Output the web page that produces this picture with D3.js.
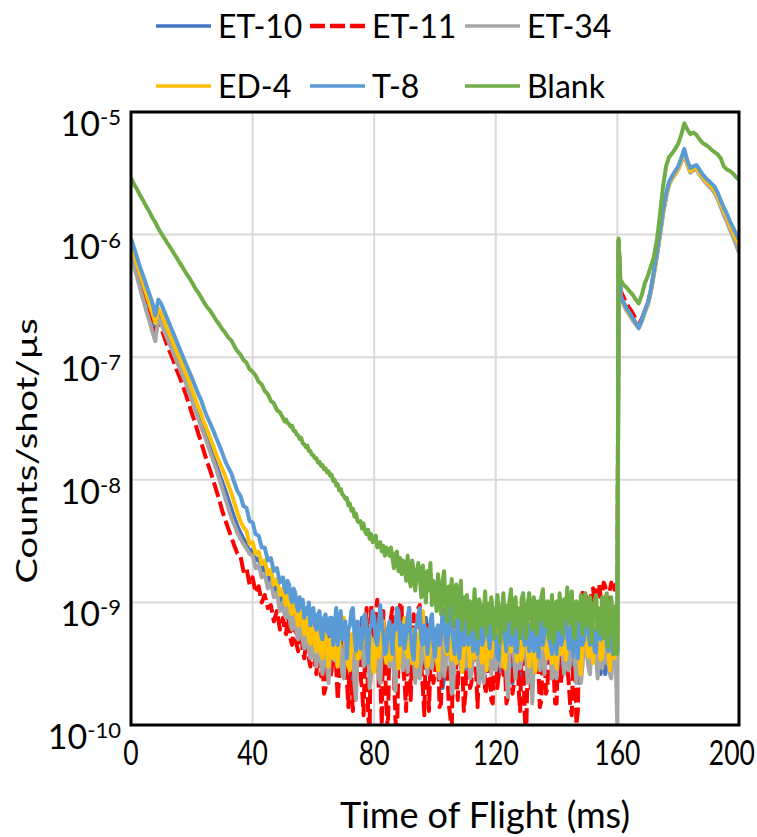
<!DOCTYPE html>
<html>
<head>
<meta charset="utf-8">
<script src="https://cdn.jsdelivr.net/npm/d3@7"></script>
<style>
  body { margin: 0; background: #fff; }
  svg { display: block; }
  text { font-family: Lato, "Open Sans", sans-serif; fill: #000; }
</style>
</head>
<body>
<svg id="chart" width="757" height="837"></svg>
<script>
// Time of flight samples (ms): 1 ms steps up to 50 ms, 0.5 ms steps in the noisy tail, 1 ms after the 160 ms gate
const timeMs = [
  0,1,2,3,4,5,6,7,8,9,
  10,11,12,13,14,15,16,17,18,19,
  20,21,22,23,24,25,26,27,28,29,
  30,31,32,33,34,35,36,37,38,39,
  40,41,42,43,44,45,46,47,48,49,
  50,50.5,51,51.5,52,52.5,53,53.5,54,54.5,
  55,55.5,56,56.5,57,57.5,58,58.5,59,59.5,
  60,60.5,61,61.5,62,62.5,63,63.5,64,64.5,
  65,65.5,66,66.5,67,67.5,68,68.5,69,69.5,
  70,70.5,71,71.5,72,72.5,73,73.5,74,74.5,
  75,75.5,76,76.5,77,77.5,78,78.5,79,79.5,
  80,80.5,81,81.5,82,82.5,83,83.5,84,84.5,
  85,85.5,86,86.5,87,87.5,88,88.5,89,89.5,
  90,90.5,91,91.5,92,92.5,93,93.5,94,94.5,
  95,95.5,96,96.5,97,97.5,98,98.5,99,99.5,
  100,100.5,101,101.5,102,102.5,103,103.5,104,104.5,
  105,105.5,106,106.5,107,107.5,108,108.5,109,109.5,
  110,110.5,111,111.5,112,112.5,113,113.5,114,114.5,
  115,115.5,116,116.5,117,117.5,118,118.5,119,119.5,
  120,120.5,121,121.5,122,122.5,123,123.5,124,124.5,
  125,125.5,126,126.5,127,127.5,128,128.5,129,129.5,
  130,130.5,131,131.5,132,132.5,133,133.5,134,134.5,
  135,135.5,136,136.5,137,137.5,138,138.5,139,139.5,
  140,140.5,141,141.5,142,142.5,143,143.5,144,144.5,
  145,145.5,146,146.5,147,147.5,148,148.5,149,149.5,
  150,150.5,151,151.5,152,152.5,153,153.5,154,154.5,
  155,155.5,156,156.5,157,157.5,158,158.5,159,159.5,
  160,160.4,
  161,162,163,164,165,166,167,168,169,170,
  171,172,173,174,175,176,177,178,179,180,
  181,182,183,184,185,186,187,188,189,190,
  191,192,193,194,195,196,197,198,199,200
];

// Counts/shot/µs at each sample
const et10 = [
  7.4e-7,6.2e-7,5.1e-7,4.2e-7,3.45e-7,2.8e-7,2.35e-7,1.95e-7,1.58e-7,2.3e-7,
  2.05e-7,1.78e-7,1.55e-7,1.35e-7,1.17e-7,1.0e-7,8.8e-8,7.6e-8,6.5e-8,5.5e-8,
  4.7e-8,4.0e-8,3.4e-8,2.9e-8,2.5e-8,2.15e-8,1.83e-8,1.56e-8,1.33e-8,1.13e-8,
  9.6e-9,8.2e-9,6.9e-9,5.8e-9,4.9e-9,4.2e-9,3.7e-9,3.3e-9,3.0e-9,2.6e-9,
  2.7e-9,2.2e-9,2.3e-9,1.8e-9,1.95e-9,1.5e-9,1.6e-9,1.25e-9,1.35e-9,1.0e-9,
  1.1e-9,9.0e-10,8.0e-10,1.0e-9,9.5e-10,7.5e-10,6.5e-10,8.5e-10,8.0e-10,6.0e-10,
  5.5e-10,7.5e-10,7.0e-10,5.5e-10,4.5e-10,6.5e-10,6.0e-10,4.5e-10,3.8e-10,5.5e-10,
  5.5e-10,4.0e-10,3.2e-10,5.0e-10,5.0e-10,3.4e-10,2.6e-10,4.5e-10,4.5e-10,6.0e-10,
  5.5e-10,4.0e-10,3.4e-10,5.5e-10,5.0e-10,3.5e-10,7.0e-10,4.5e-10,3.0e-10,5.0e-10,
  4.5e-10,3.5e-10,6.0e-10,5.5e-10,3.8e-10,3.0e-10,2.2e-10,4.5e-10,5.5e-10,4.0e-10,
  4.0e-10,6.0e-10,7.5e-10,4.5e-10,3.2e-10,3.8e-10,5.0e-10,6.0e-10,4.2e-10,3.0e-10,
  6.5e-10,4.5e-10,2.8e-10,3.5e-10,4.8e-10,5.5e-10,3.5e-10,4.0e-10,6.0e-10,3.2e-10,
  4.0e-10,5.0e-10,5.5e-10,3.0e-10,2.5e-10,4.0e-10,4.5e-10,6.0e-10,7.0e-10,4.5e-10,
  3.4e-10,2.8e-10,5.0e-10,4.5e-10,4.0e-10,5.5e-10,6.0e-10,3.8e-10,2.9e-10,4.2e-10,
  4.5e-10,5.5e-10,3.6e-10,4.0e-10,7.5e-10,5.0e-10,4.2e-10,3.0e-10,5.0e-10,6.0e-10,
  3.0e-10,4.5e-10,5.5e-10,3.6e-10,4.0e-10,2.0e-10,2.4e-10,5.0e-10,6.0e-10,4.0e-10,
  4.5e-10,3.2e-10,3.5e-10,5.5e-10,5.0e-10,6.0e-10,6.5e-10,4.0e-10,3.8e-10,2.7e-10,
  4.5e-10,5.0e-10,2.6e-10,4.2e-10,5.5e-10,3.5e-10,4.0e-10,6.0e-10,6.0e-10,4.5e-10,
  3.2e-10,2.4e-10,4.8e-10,5.0e-10,5.5e-10,4.0e-10,3.6e-10,5.5e-10,7.0e-10,4.2e-10,
  4.0e-10,3.0e-10,2.7e-10,5.0e-10,5.0e-10,3.6e-10,4.2e-10,6.0e-10,6.0e-10,4.5e-10,
  3.4e-10,2.2e-10,5.0e-10,4.0e-10,4.0e-10,5.5e-10,2.3e-10,3.6e-10,5.5e-10,4.5e-10,
  4.5e-10,6.0e-10,6.5e-10,4.2e-10,3.6e-10,5.0e-10,5.0e-10,3.4e-10,4.2e-10,5.5e-10,
  3.0e-10,4.5e-10,6.0e-10,3.8e-10,4.5e-10,5.0e-10,5.5e-10,4.0e-10,2.8e-10,3.6e-10,
  4.8e-10,6.0e-10,3.8e-10,2.6e-10,6.5e-10,4.5e-10,4.0e-10,5.5e-10,5.0e-10,3.0e-10,
  3.2e-10,4.5e-10,5.5e-10,3.6e-10,2.5e-10,2.2e-10,4.5e-10,5.0e-10,6.0e-10,4.0e-10,
  3.8e-10,5.5e-10,5.0e-10,3.2e-10,4.2e-10,6.0e-10,6.5e-10,4.5e-10,3.4e-10,2.6e-10,
  5.0e-10,4.0e-10,2.6e-10,3.0e-10,4.5e-10,5.5e-10,5.5e-10,4.0e-10,3.6e-10,5.0e-10,
  5.0e-10,8.9e-7,
  3.15e-7,2.8e-7,2.5e-7,2.3e-7,2.1e-7,1.9e-7,1.76e-7,1.99e-7,2.38e-7,2.72e-7,
  3.5e-7,4.9e-7,6.9e-7,1.02e-6,1.52e-6,2.08e-6,2.65e-6,2.95e-6,3.2e-6,3.5e-6,
  4.1e-6,4.8e-6,3.9e-6,3.4e-6,3.5e-6,3.55e-6,3.25e-6,3.0e-6,2.8e-6,2.65e-6,
  2.5e-6,2.35e-6,2.1e-6,1.82e-6,1.58e-6,1.4e-6,1.22e-6,1.08e-6,9.6e-7,8.7e-7
];

const et11 = [
  7.4e-7,6.2e-7,5.1e-7,4.3e-7,3.55e-7,2.95e-7,2.45e-7,2.05e-7,1.66e-7,1.9e-7,
  1.7e-7,1.45e-7,1.23e-7,1.07e-7,9.3e-8,7.9e-8,6.9e-8,5.9e-8,5.0e-8,4.2e-8,
  3.5e-8,2.95e-8,2.45e-8,2.05e-8,1.7e-8,1.41e-8,1.2e-8,1.0e-8,8.3e-9,6.9e-9,
  5.6e-9,4.7e-9,4.0e-9,3.4e-9,2.9e-9,2.5e-9,2.4e-9,1.8e-9,1.9e-9,1.4e-9,
  1.6e-9,1.2e-9,1.35e-9,1.0e-9,1.15e-9,9.0e-10,9.5e-10,7.0e-10,8.5e-10,6.0e-10,
  7.5e-10,6.0e-10,5.5e-10,7.5e-10,7.0e-10,5.0e-10,4.5e-10,6.0e-10,6.5e-10,4.5e-10,
  4.0e-10,5.5e-10,6.0e-10,4.0e-10,3.5e-10,4.5e-10,5.0e-10,3.5e-10,3.0e-10,4.0e-10,
  5.5e-10,3.2e-10,2.6e-10,4.0e-10,4.5e-10,2.5e-10,3.2e-10,1.8e-10,2.0e-10,3.5e-10,
  4.0e-10,2.4e-10,2.8e-10,4.5e-10,5.0e-10,3.0e-10,1.6e-10,2.6e-10,3.5e-10,5.5e-10,
  7.0e-10,3.5e-10,2.4e-10,1.4e-10,4.5e-10,2.0e-10,1.3e-10,3.5e-10,3.0e-10,5.5e-10,
  6.5e-10,2.5e-10,2.0e-10,1.2e-10,4.0e-10,9.0e-10,1.2e-10,0.9e-10,9.5e-10,4.0e-10,
  3.0e-10,8.0e-10,1.05e-9,2.0e-10,2.5e-10,1.0e-10,8.5e-10,3.5e-10,1.4e-10,0.9e-10,
  4.5e-10,7.5e-10,9.0e-10,2.6e-10,1.1e-10,0.8e-10,3.5e-10,9.5e-10,1.0e-9,3.0e-10,
  2.2e-10,1.3e-10,6.0e-10,9.0e-10,1.6e-10,4.0e-10,8.0e-10,2.4e-10,3.0e-10,9.0e-10,
  9.5e-10,3.0e-10,2.0e-10,1.2e-10,5.0e-10,6.5e-10,1.3e-10,3.0e-10,7.5e-10,2.2e-10,
  2.6e-10,5.0e-10,4.0e-10,1.4e-10,1.5e-10,6.0e-10,9.0e-10,2.6e-10,3.2e-10,1.5e-10,
  1.2e-10,0.8e-10,5.5e-10,7.0e-10,2.4e-10,1.6e-10,8.5e-10,4.0e-10,3.0e-10,1.3e-10,
  1.8e-10,4.0e-10,4.5e-10,2.0e-10,2.2e-10,5.5e-10,6.0e-10,2.8e-10,1.4e-10,3.0e-10,
  3.5e-10,6.0e-10,7.0e-10,1.8e-10,2.0e-10,4.5e-10,4.0e-10,1.6e-10,1.5e-10,3.8e-10,
  5.0e-10,2.0e-10,2.6e-10,6.0e-10,8.0e-10,2.4e-10,3.0e-10,1.5e-10,1.7e-10,5.0e-10,
  4.5e-10,1.8e-10,2.2e-10,5.0e-10,6.5e-10,2.0e-10,1.3e-10,4.0e-10,3.5e-10,1.2e-10,
  0.8e-10,3.5e-10,5.0e-10,2.0e-10,2.4e-10,6.0e-10,7.5e-10,2.6e-10,3.0e-10,1.4e-10,
  1.6e-10,5.0e-10,4.5e-10,1.8e-10,2.0e-10,5.5e-10,6.0e-10,2.4e-10,2.8e-10,1.5e-10,
  1.5e-10,4.5e-10,5.0e-10,2.2e-10,3.2e-10,6.5e-10,8.0e-10,3.0e-10,2.2e-10,1.4e-10,
  1.2e-10,4.0e-10,5.5e-10,1.0e-10,1.3e-10,7.0e-10,9.0e-10,1.2e-9,6.5e-10,9.5e-10,
  1.1e-9,7.5e-10,8.5e-10,1.25e-9,1.3e-9,9.5e-10,1.05e-9,1.35e-9,1.4e-9,1.1e-9,
  1.15e-9,1.45e-9,1.35e-9,1.05e-9,1.0e-9,1.25e-9,1.45e-9,1.3e-9,1.2e-9,1.4e-9,
  1.3e-9,8.5e-7,
  3.5e-7,3.1e-7,2.75e-7,2.5e-7,2.3e-7,2.05e-7,1.85e-7,2.05e-7,2.4e-7,2.75e-7,
  3.5e-7,4.9e-7,7.0e-7,1.03e-6,1.52e-6,2.05e-6,2.6e-6,2.9e-6,3.15e-6,3.45e-6,
  4.0e-6,4.7e-6,3.8e-6,3.3e-6,3.4e-6,3.5e-6,3.2e-6,2.95e-6,2.75e-6,2.6e-6,
  2.45e-6,2.28e-6,2.02e-6,1.75e-6,1.52e-6,1.34e-6,1.16e-6,1.02e-6,8.9e-7,7.8e-7
];

const et34 = [
  6.6e-7,5.5e-7,4.5e-7,3.6e-7,2.95e-7,2.4e-7,2.0e-7,1.62e-7,1.35e-7,2.1e-7,
  1.86e-7,1.62e-7,1.41e-7,1.23e-7,1.07e-7,9.3e-8,8.1e-8,7.1e-8,6.2e-8,5.2e-8,
  4.5e-8,3.8e-8,3.2e-8,2.75e-8,2.35e-8,2.0e-8,1.7e-8,1.45e-8,1.23e-8,1.02e-8,
  8.5e-9,7.1e-9,5.9e-9,4.9e-9,4.3e-9,3.7e-9,3.3e-9,3.0e-9,2.75e-9,2.5e-9,
  2.4e-9,1.9e-9,2.0e-9,1.6e-9,1.7e-9,1.3e-9,1.45e-9,1.1e-9,1.2e-9,8.5e-10,
  1.0e-9,8.0e-10,7.5e-10,9.0e-10,8.5e-10,6.5e-10,6.0e-10,7.5e-10,7.5e-10,5.5e-10,
  5.0e-10,6.5e-10,6.5e-10,4.8e-10,4.2e-10,5.5e-10,5.5e-10,4.0e-10,3.5e-10,4.5e-10,
  5.0e-10,3.6e-10,3.0e-10,4.5e-10,4.8e-10,3.2e-10,2.6e-10,4.0e-10,4.5e-10,3.0e-10,
  2.2e-10,3.8e-10,4.0e-10,4.8e-10,5.0e-10,3.4e-10,3.0e-10,4.0e-10,4.5e-10,2.6e-10,
  2.4e-10,4.5e-10,5.5e-10,3.2e-10,3.6e-10,4.8e-10,4.8e-10,2.2e-10,1.6e-10,3.6e-10,
  4.0e-10,5.0e-10,5.5e-10,3.0e-10,3.2e-10,4.2e-10,4.5e-10,2.0e-10,2.6e-10,4.5e-10,
  5.0e-10,3.6e-10,3.8e-10,2.4e-10,2.2e-10,4.0e-10,4.5e-10,5.0e-10,5.5e-10,3.4e-10,
  3.0e-10,4.5e-10,4.2e-10,2.6e-10,1.9e-10,3.8e-10,5.0e-10,4.2e-10,3.5e-10,2.8e-10,
  4.5e-10,5.0e-10,2.7e-10,3.6e-10,5.5e-10,4.0e-10,3.8e-10,2.2e-10,4.2e-10,4.8e-10,
  2.4e-10,3.4e-10,5.0e-10,4.5e-10,3.2e-10,2.6e-10,4.8e-10,5.5e-10,2.9e-10,3.8e-10,
  5.5e-10,4.0e-10,3.6e-10,2.4e-10,4.2e-10,5.0e-10,2.5e-10,3.0e-10,5.0e-10,4.2e-10,
  3.5e-10,1.8e-10,2.0e-10,4.0e-10,4.5e-10,5.0e-10,3.8e-10,2.8e-10,5.5e-10,4.2e-10,
  3.0e-10,4.5e-10,4.2e-10,2.4e-10,2.6e-10,3.6e-10,5.0e-10,4.5e-10,3.4e-10,2.2e-10,
  4.5e-10,5.0e-10,2.2e-10,3.2e-10,5.0e-10,4.0e-10,3.8e-10,2.6e-10,4.5e-10,5.0e-10,
  2.8e-10,4.2e-10,5.5e-10,3.0e-10,3.4e-10,4.8e-10,4.2e-10,2.6e-10,1.7e-10,3.6e-10,
  4.8e-10,5.0e-10,3.6e-10,2.4e-10,5.0e-10,4.2e-10,2.9e-10,3.4e-10,4.2e-10,4.8e-10,
  3.5e-10,2.2e-10,5.5e-10,4.0e-10,1.5e-10,3.2e-10,4.5e-10,5.0e-10,3.2e-10,2.8e-10,
  5.0e-10,4.2e-10,2.6e-10,3.6e-10,4.2e-10,5.0e-10,3.8e-10,2.4e-10,5.5e-10,4.0e-10,
  2.4e-10,3.6e-10,4.5e-10,5.0e-10,3.6e-10,2.6e-10,5.0e-10,4.0e-10,2.8e-10,3.2e-10,
  4.2e-10,5.0e-10,3.4e-10,2.2e-10,5.0e-10,4.5e-10,2.2e-10,3.0e-10,4.5e-10,5.0e-10,
  3.8e-10,2.9e-10,2.6e-10,4.5e-10,5.0e-10,3.6e-10,3.5e-10,2.4e-10,4.5e-10,5.0e-10,
  2.9e-10,4.0e-10,5.0e-10,3.2e-10,3.6e-10,2.6e-10,2.4e-10,4.5e-10,4.2e-10,3.0e-10,
  0.9e-10,8.6e-7,
  3.05e-7,2.7e-7,2.4e-7,2.2e-7,2.0e-7,1.85e-7,1.72e-7,1.94e-7,2.3e-7,2.65e-7,
  3.4e-7,4.7e-7,6.6e-7,9.7e-7,1.45e-6,2.0e-6,2.55e-6,2.85e-6,3.1e-6,3.4e-6,
  3.95e-6,4.6e-6,3.7e-6,3.2e-6,3.35e-6,3.4e-6,3.1e-6,2.85e-6,2.65e-6,2.5e-6,
  2.35e-6,2.18e-6,1.95e-6,1.67e-6,1.44e-6,1.27e-6,1.1e-6,9.6e-7,8.3e-7,7.1e-7
];

const ed4 = [
  8.3e-7,6.9e-7,5.75e-7,4.8e-7,4.0e-7,3.3e-7,2.75e-7,2.3e-7,1.9e-7,2.5e-7,
  2.25e-7,1.95e-7,1.7e-7,1.48e-7,1.29e-7,1.12e-7,9.8e-8,8.5e-8,7.4e-8,6.5e-8,
  5.5e-8,4.7e-8,4.0e-8,3.5e-8,2.95e-8,2.57e-8,2.2e-8,1.9e-8,1.62e-8,1.41e-8,
  1.23e-8,1.07e-8,9.1e-9,7.8e-9,6.5e-9,5.4e-9,4.6e-9,4.1e-9,3.8e-9,3.0e-9,
  3.1e-9,2.5e-9,2.6e-9,2.05e-9,2.2e-9,1.7e-9,1.85e-9,1.4e-9,1.55e-9,1.15e-9,
  1.3e-9,1.05e-9,9.5e-10,1.2e-9,1.1e-9,8.5e-10,8.0e-10,1.0e-9,9.5e-10,7.5e-10,
  6.5e-10,8.5e-10,8.0e-10,6.5e-10,5.5e-10,7.5e-10,7.0e-10,5.0e-10,4.6e-10,6.5e-10,
  6.5e-10,4.5e-10,4.0e-10,6.0e-10,6.0e-10,3.8e-10,3.5e-10,5.5e-10,5.5e-10,4.0e-10,
  3.0e-10,5.0e-10,5.0e-10,3.5e-10,6.0e-10,4.5e-10,3.0e-10,5.0e-10,5.5e-10,7.0e-10,
  7.5e-10,4.5e-10,4.0e-10,3.0e-10,2.8e-10,5.5e-10,5.0e-10,4.0e-10,6.5e-10,3.5e-10,
  3.5e-10,5.0e-10,4.5e-10,6.0e-10,8.0e-10,4.5e-10,3.8e-10,5.5e-10,5.0e-10,3.0e-10,
  2.7e-10,4.5e-10,6.0e-10,3.6e-10,4.2e-10,6.0e-10,7.0e-10,4.0e-10,3.2e-10,5.0e-10,
  5.5e-10,3.4e-10,4.0e-10,6.5e-10,6.5e-10,4.5e-10,2.9e-10,4.0e-10,5.0e-10,6.0e-10,
  7.5e-10,4.0e-10,3.6e-10,5.5e-10,4.5e-10,3.2e-10,6.0e-10,4.5e-10,3.0e-10,5.5e-10,
  5.5e-10,7.0e-10,8.5e-10,4.5e-10,4.0e-10,3.0e-10,3.4e-10,5.0e-10,6.5e-10,4.0e-10,
  4.8e-10,3.5e-10,2.8e-10,5.0e-10,5.5e-10,6.5e-10,7.0e-10,4.0e-10,3.8e-10,5.5e-10,
  4.5e-10,3.4e-10,6.0e-10,5.0e-10,3.2e-10,4.5e-10,5.0e-10,6.5e-10,2.7e-10,4.0e-10,
  6.5e-10,5.0e-10,4.2e-10,3.0e-10,7.5e-10,5.5e-10,3.5e-10,4.0e-10,5.0e-10,6.0e-10,
  4.0e-10,3.2e-10,6.0e-10,4.5e-10,2.8e-10,5.0e-10,5.5e-10,3.6e-10,4.5e-10,6.5e-10,
  7.0e-10,4.5e-10,3.6e-10,5.5e-10,5.0e-10,3.0e-10,2.9e-10,4.5e-10,6.0e-10,4.0e-10,
  4.0e-10,6.5e-10,8.0e-10,4.5e-10,3.3e-10,5.0e-10,5.5e-10,3.4e-10,4.5e-10,6.0e-10,
  6.5e-10,4.0e-10,3.0e-10,5.5e-10,5.0e-10,3.6e-10,2.7e-10,4.5e-10,6.0e-10,5.0e-10,
  4.2e-10,5.5e-10,7.0e-10,4.0e-10,3.5e-10,6.0e-10,5.5e-10,3.2e-10,4.0e-10,5.0e-10,
  2.9e-10,5.0e-10,6.5e-10,3.8e-10,4.5e-10,6.0e-10,3.4e-10,4.5e-10,5.5e-10,7.0e-10,
  7.5e-10,4.5e-10,3.8e-10,5.5e-10,5.0e-10,3.2e-10,2.6e-10,4.5e-10,6.0e-10,5.0e-10,
  4.0e-10,3.6e-10,5.5e-10,6.0e-10,3.2e-10,4.5e-10,7.0e-10,5.0e-10,4.5e-10,3.4e-10,
  3.6e-10,5.0e-10,6.0e-10,4.5e-10,4.2e-10,2.8e-10,5.0e-10,6.0e-10,3.5e-10,4.0e-10,
  4.5e-10,8.8e-7,
  3.1e-7,2.75e-7,2.45e-7,2.25e-7,2.05e-7,1.88e-7,1.75e-7,1.98e-7,2.35e-7,2.7e-7,
  3.45e-7,4.8e-7,6.8e-7,1.0e-6,1.5e-6,2.05e-6,2.6e-6,2.9e-6,3.15e-6,3.45e-6,
  4.0e-6,4.7e-6,3.8e-6,3.3e-6,3.45e-6,3.5e-6,3.2e-6,2.95e-6,2.75e-6,2.6e-6,
  2.45e-6,2.3e-6,2.05e-6,1.78e-6,1.55e-6,1.37e-6,1.19e-6,1.05e-6,9.3e-7,8.3e-7
];

const t8 = [
  9.3e-7,7.8e-7,6.5e-7,5.4e-7,4.6e-7,3.9e-7,3.3e-7,2.8e-7,2.2e-7,2.95e-7,
  2.7e-7,2.35e-7,2.05e-7,1.78e-7,1.55e-7,1.35e-7,1.17e-7,1.02e-7,8.9e-8,7.8e-8,
  6.8e-8,5.9e-8,5.1e-8,4.5e-8,3.8e-8,3.3e-8,2.9e-8,2.55e-8,2.2e-8,1.92e-8,
  1.66e-8,1.42e-8,1.26e-8,1.13e-8,9.5e-9,8.1e-9,7.4e-9,6.1e-9,5.9e-9,4.6e-9,
  4.5e-9,3.6e-9,3.5e-9,2.8e-9,2.8e-9,2.2e-9,2.3e-9,1.8e-9,1.9e-9,1.45e-9,
  1.6e-9,1.3e-9,1.2e-9,1.5e-9,1.4e-9,1.1e-9,1.0e-9,1.3e-9,1.2e-9,9.5e-10,
  8.5e-10,1.1e-9,9.0e-10,1.05e-9,7.5e-10,9.0e-10,8.0e-10,1.0e-9,6.5e-10,8.5e-10,
  9.0e-10,6.5e-10,6.0e-10,8.0e-10,8.5e-10,5.5e-10,5.0e-10,7.5e-10,8.0e-10,6.0e-10,
  5.5e-10,7.5e-10,7.5e-10,4.5e-10,6.0e-10,9.0e-10,4.5e-10,6.5e-10,8.5e-10,5.0e-10,
  5.0e-10,7.0e-10,3.5e-10,6.0e-10,6.5e-10,8.5e-10,9.0e-10,5.5e-10,4.0e-10,7.0e-10,
  6.0e-10,4.2e-10,5.0e-10,7.5e-10,8.0e-10,5.0e-10,3.2e-10,6.0e-10,6.5e-10,8.5e-10,
  7.5e-10,5.0e-10,4.5e-10,6.5e-10,9.5e-10,7.0e-10,5.5e-10,3.8e-10,4.0e-10,6.0e-10,
  7.0e-10,5.5e-10,3.8e-10,6.5e-10,6.0e-10,9.0e-10,8.5e-10,4.5e-10,5.0e-10,6.5e-10,
  4.2e-10,5.5e-10,7.5e-10,9.0e-10,5.5e-10,4.0e-10,3.4e-10,6.0e-10,6.5e-10,8.0e-10,
  9.0e-10,5.0e-10,4.5e-10,6.5e-10,6.0e-10,3.8e-10,5.0e-10,7.0e-10,8.0e-10,4.5e-10,
  3.6e-10,6.0e-10,6.5e-10,4.5e-10,5.5e-10,8.5e-10,7.5e-10,5.0e-10,4.0e-10,6.5e-10,
  9.5e-10,6.0e-10,5.0e-10,3.8e-10,6.0e-10,8.0e-10,3.5e-10,5.5e-10,7.0e-10,4.5e-10,
  5.5e-10,8.0e-10,4.5e-10,6.5e-10,8.5e-10,4.0e-10,6.0e-10,5.0e-10,3.8e-10,7.0e-10,
  6.5e-10,4.5e-10,5.0e-10,8.5e-10,7.5e-10,5.5e-10,4.2e-10,6.0e-10,9.0e-10,5.0e-10,
  5.5e-10,3.6e-10,3.4e-10,6.0e-10,6.5e-10,8.5e-10,5.0e-10,4.0e-10,8.0e-10,6.0e-10,
  4.5e-10,7.0e-10,6.0e-10,4.0e-10,3.9e-10,6.5e-10,7.0e-10,9.0e-10,5.5e-10,4.5e-10,
  9.0e-10,5.5e-10,4.0e-10,6.5e-10,6.5e-10,4.0e-10,5.0e-10,7.5e-10,3.6e-10,6.0e-10,
  7.5e-10,4.5e-10,5.5e-10,8.0e-10,8.5e-10,5.0e-10,4.5e-10,3.8e-10,6.0e-10,7.5e-10,
  3.8e-10,6.5e-10,7.0e-10,4.5e-10,5.0e-10,8.0e-10,9.0e-10,5.5e-10,4.2e-10,6.0e-10,
  6.5e-10,3.6e-10,5.5e-10,7.0e-10,3.5e-10,6.0e-10,7.5e-10,4.5e-10,5.0e-10,8.5e-10,
  8.0e-10,5.5e-10,4.5e-10,6.5e-10,6.0e-10,4.0e-10,3.9e-10,7.5e-10,7.0e-10,5.0e-10,
  5.5e-10,9.0e-10,8.5e-10,4.5e-10,4.0e-10,6.0e-10,6.5e-10,3.8e-10,5.0e-10,7.0e-10,
  4.0e-10,9.0e-7,
  3.2e-7,2.8e-7,2.5e-7,2.3e-7,2.1e-7,1.9e-7,1.74e-7,2.0e-7,2.4e-7,2.75e-7,
  3.55e-7,5.0e-7,7.1e-7,1.05e-6,1.58e-6,2.14e-6,2.7e-6,3.0e-6,3.3e-6,3.6e-6,
  4.2e-6,5.0e-6,4.0e-6,3.5e-6,3.6e-6,3.7e-6,3.4e-6,3.1e-6,2.9e-6,2.75e-6,
  2.6e-6,2.45e-6,2.2e-6,1.9e-6,1.66e-6,1.48e-6,1.29e-6,1.15e-6,1.02e-6,9.1e-7
];

const blank = [
  2.9e-6,2.57e-6,2.34e-6,2.09e-6,1.9e-6,1.7e-6,1.55e-6,1.38e-6,1.26e-6,1.12e-6,
  1.02e-6,9.3e-7,8.5e-7,7.8e-7,7.1e-7,6.5e-7,5.9e-7,5.4e-7,4.9e-7,4.5e-7,
  4.1e-7,3.7e-7,3.4e-7,3.1e-7,2.8e-7,2.57e-7,2.4e-7,2.2e-7,2.0e-7,1.86e-7,
  1.7e-7,1.58e-7,1.45e-7,1.37e-7,1.23e-7,1.12e-7,1.05e-7,9.5e-8,9.0e-8,8.0e-8,
  7.6e-8,7.1e-8,6.3e-8,6.0e-8,5.3e-8,5.0e-8,4.4e-8,4.2e-8,3.7e-8,3.55e-8,
  3.2e-8,3.0e-8,3.1e-8,2.9e-8,2.85e-8,2.7e-8,2.75e-8,2.5e-8,2.5e-8,2.35e-8,
  2.3e-8,2.15e-8,2.2e-8,1.98e-8,1.95e-8,1.85e-8,1.9e-8,1.72e-8,1.72e-8,1.6e-8,
  1.58e-8,1.5e-8,1.5e-8,1.38e-8,1.4e-8,1.3e-8,1.32e-8,1.22e-8,1.24e-8,1.15e-8,
  1.17e-8,1.08e-8,1.1e-8,9.8e-9,1.0e-8,9.0e-9,9.2e-9,8.2e-9,8.4e-9,7.6e-9,
  7.4e-9,7.0e-9,7.1e-9,6.2e-9,6.4e-9,5.6e-9,5.8e-9,5.0e-9,5.3e-9,4.6e-9,
  4.5e-9,4.6e-9,4.0e-9,4.4e-9,3.8e-9,3.6e-9,3.9e-9,3.3e-9,3.6e-9,3.1e-9,
  3.2e-9,3.5e-9,2.8e-9,3.0e-9,3.1e-9,2.6e-9,2.9e-9,2.4e-9,2.8e-9,2.7e-9,
  2.4e-9,2.8e-9,2.3e-9,1.9e-9,2.5e-9,2.6e-9,1.8e-9,2.3e-9,1.7e-9,2.2e-9,
  2.0e-9,1.5e-9,2.4e-9,1.6e-9,1.35e-9,2.2e-9,1.8e-9,1.25e-9,1.7e-9,2.1e-9,
  1.6e-9,1.1e-9,2.0e-9,1.4e-9,1.0e-9,1.8e-9,1.25e-9,2.1e-9,9.5e-10,1.5e-9,
  1.3e-9,8.5e-10,1.7e-9,1.15e-9,8.0e-10,1.5e-9,1.8e-9,9.0e-10,7.0e-10,1.35e-9,
  1.0e-9,1.55e-9,6.5e-10,1.2e-9,1.4e-9,7.5e-10,9.5e-10,1.5e-9,6.0e-10,1.1e-9,
  7.6e-10,1.15e-9,5.5e-10,1.02e-9,8.5e-10,6.0e-10,1.28e-9,7.2e-10,5.1e-10,1.06e-9,
  9.4e-10,6.4e-10,7.6e-10,1.23e-9,5.5e-10,9.8e-10,6.8e-10,1.1e-9,8.5e-10,5.1e-10,
  6.4e-10,1.15e-9,8.9e-10,4.7e-10,7.6e-10,1.19e-9,6.0e-10,9.4e-10,7.2e-10,1.02e-9,
  1.28e-9,5.5e-10,8.1e-10,1.1e-9,6.4e-10,8.9e-10,5.1e-10,1.06e-9,1.19e-9,6.8e-10,
  5.1e-10,9.8e-10,1.19e-9,7.6e-10,6.0e-10,1.1e-9,9.4e-10,5.5e-10,1.02e-9,7.2e-10,
  1.1e-9,1.28e-9,6.4e-10,8.5e-10,1.02e-9,5.1e-10,8.1e-10,1.15e-9,4.7e-10,8.9e-10,
  1.02e-9,6.0e-10,1.19e-9,8.5e-10,5.5e-10,1.06e-9,7.6e-10,1.32e-9,6.8e-10,9.4e-10,
  1.23e-9,6.0e-10,5.1e-10,1.02e-9,8.9e-10,7.2e-10,1.15e-9,5.5e-10,9.8e-10,1.19e-9,
  6.4e-10,8.5e-10,1.1e-9,4.7e-10,7.6e-10,1.02e-9,1.15e-9,6.0e-10,8.9e-10,5.5e-10,
  1.1e-9,5.1e-10,9.4e-10,1.19e-9,4.3e-10,8.1e-10,1.1e-9,6.4e-10,3.8e-10,9.4e-10,
  3.8e-10,9.3e-7,
  4.3e-7,3.9e-7,3.7e-7,3.45e-7,3.25e-7,2.95e-7,2.75e-7,3.2e-7,4.0e-7,4.6e-7,
  5.5e-7,6.6e-7,9.0e-7,1.45e-6,2.45e-6,3.6e-6,4.3e-6,4.6e-6,5.0e-6,5.5e-6,
  6.5e-6,8.1e-6,7.2e-6,6.6e-6,6.8e-6,6.5e-6,6.0e-6,5.6e-6,5.4e-6,5.2e-6,
  4.9e-6,4.7e-6,4.5e-6,4.2e-6,3.6e-6,3.4e-6,3.3e-6,3.15e-6,2.95e-6,2.8e-6
];

const seriesNames  = ["ET-10", "ET-11", "ET-34", "ED-4", "T-8", "Blank"];
const seriesColors = ["#4472C4", "#FF0000", "#A5A5A5", "#FFC000", "#5B9BD5", "#70AD47"];
const seriesValues = [et10, et11, et34, ed4, t8, blank];

const xTicks = [0, 40, 80, 120, 160, 200];
const yTicks = [1e-5, 1e-6, 1e-7, 1e-8, 1e-9, 1e-10];

seriesValues.forEach((s, i) => {
  if (s.length !== timeMs.length) throw new Error(seriesNames[i] + " has " + s.length + " values, expected " + timeMs.length);
});

// ---- layout ----
const W = 757;
const plot = { left: 131, right: 739, top: 112, bottom: 725 };
const svg = d3.select("#chart");

const x = d3.scaleLinear().domain([0, 200]).range([plot.left, plot.right]);
const y = d3.scaleLog().domain([1e-10, 1e-5]).range([plot.bottom, plot.top]);

// gridlines
const grid = svg.append("g").attr("stroke", "#D9D9D9").attr("stroke-width", 2);
grid.selectAll("line.gx")
  .data(xTicks.filter(v => v > 0 && v < 200))
  .join("line").attr("class", "gx")
  .attr("x1", d => x(d)).attr("x2", d => x(d))
  .attr("y1", plot.top).attr("y2", plot.bottom);
grid.selectAll("line.gy")
  .data(yTicks.filter(v => v > 1e-10 && v < 1e-5))
  .join("line").attr("class", "gy")
  .attr("x1", plot.left).attr("x2", plot.right)
  .attr("y1", d => y(d)).attr("y2", d => y(d));

// data traces, clipped to the plot area
svg.append("defs").append("clipPath").attr("id", "plotClip")
  .append("rect")
  .attr("x", plot.left).attr("y", plot.top)
  .attr("width", plot.right - plot.left).attr("height", plot.bottom - plot.top);

const line = d3.line()
  .x((d, i) => x(timeMs[i]))
  .y(d => y(d));

const traces = svg.append("g").attr("clip-path", "url(#plotClip)");
seriesValues.forEach((vals, k) => {
  traces.append("path")
    .attr("d", line(vals))
    .attr("fill", "none")
    .attr("stroke", seriesColors[k])
    .attr("stroke-width", 4)
    .attr("stroke-linejoin", "round")
    .attr("stroke-dasharray", seriesNames[k] === "ET-11" ? "15,5" : null);
});

// plot frame
svg.append("rect")
  .attr("x", plot.left).attr("y", plot.top)
  .attr("width", plot.right - plot.left).attr("height", plot.bottom - plot.top)
  .attr("fill", "none").attr("stroke", "#000").attr("stroke-width", 3);

// x tick labels (the last one is nudged inside the page edge)
svg.append("g").selectAll("text")
  .data(xTicks)
  .join("text")
  .attr("text-anchor", "middle")
  .attr("font-size", 34)
  .text(d => d)
  .each(function (d) {
    const sx = 0.78;
    const half = this.getComputedTextLength() * sx / 2;
    const cx = Math.min(x(d), W - 2 - half);
    d3.select(this).attr("transform", `translate(${cx},765) scale(${sx},1)`);
  });

// y tick labels: 10 with a superscript exponent
const yLab = svg.append("g").selectAll("text")
  .data(yTicks)
  .join("text")
  .attr("transform", d => `translate(121,${y(d) + 24})`)
  .attr("text-anchor", "end")
  .attr("font-size", 34);
yLab.append("tspan").text("10");
yLab.append("tspan")
  .attr("font-size", 22)
  .attr("dy", -11)
  .text(d => String(Math.round(Math.log10(d))));

// axis titles
svg.append("text")
  .attr("transform", "translate(485,828)")
  .attr("text-anchor", "middle")
  .attr("font-size", 36)
  .text("Time of Flight (ms)");

svg.append("text")
  .attr("transform", "translate(37,451) scale(0.76,1) rotate(-90)")
  .attr("text-anchor", "middle")
  .attr("font-size", 38)
  .text("Counts/shot/µs");

// legend
const legendCols = [156, 310, 465];
const legendRows = [26, 86];
const legend = svg.append("g").selectAll("g")
  .data(seriesNames)
  .join("g")
  .attr("transform", (d, i) => `translate(${legendCols[i % 3]},${legendRows[Math.floor(i / 3)]})`);
legend.append("line")
  .attr("x1", 0).attr("x2", 55).attr("y1", 0).attr("y2", 0)
  .attr("stroke", (d, i) => seriesColors[i])
  .attr("stroke-width", d => d === "ET-11" ? 4.5 : 3.5)
  .attr("stroke-dasharray", d => d === "ET-11" ? "15,5" : null);
legend.append("text")
  .attr("transform", "translate(62,12)")
  .attr("font-size", 32)
  .text(d => d);
</script>
</body>
</html>
